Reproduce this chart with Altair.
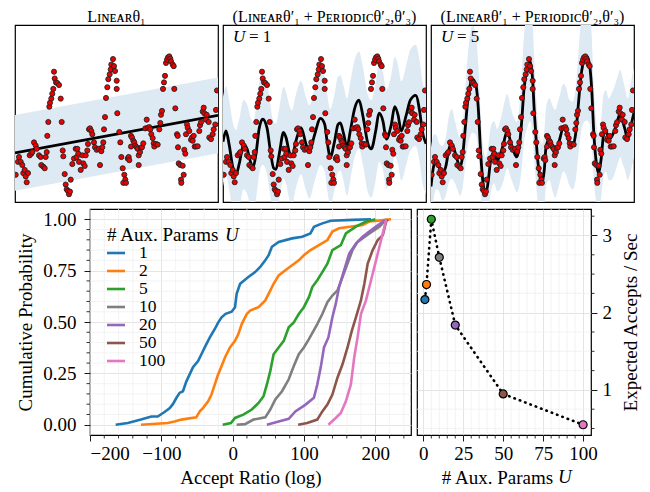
import altair as alt
import pandas as pd

FONT = "Liberation Serif"

# ---------------- top panels: observations (shared) ----------------
obs_t = [0.7, 3.0, 4.0, 5.7, 7.3, 8.3, 9.7, 10.7, 11.7, 13.0,
         14.7, 16.3, 17.3, 19.0, 20.7, 21.7, 24.0, 25.7, 26.3, 28.3,
         29.7, 30.7, 31.7, 32.3, 33.3, 34.3, 35.0, 36.3, 37.3, 38.3,
         39.0, 39.7, 41.0, 42.3, 44.0, 45.7, 46.7, 47.7, 48.3, 49.7,
         50.7, 51.7, 53.0, 54.0, 55.0, 55.7, 57.3, 59.0, 60.7, 61.7,
         62.3, 63.3, 64.0, 65.7, 67.3, 68.3, 69.7, 70.7, 72.3, 73.0,
         74.0, 75.0, 76.3, 77.3, 79.0, 80.0, 81.7, 84.0, 85.0, 86.3,
         87.3, 88.3, 89.0, 90.0, 91.0, 92.3, 93.3, 94.7, 95.7, 96.3,
         98.0, 99.0, 100.0, 101.7, 101.7, 102.3, 104.3, 105.3, 106.3, 107.7,
         108.3, 109.3, 110.3, 111.0, 112.7, 113.7, 114.3, 116.0, 116.0, 117.0,
         118.3, 119.3, 120.3, 121.7, 122.7, 123.7, 123.7, 125.0, 126.0, 127.0,
         128.3, 130.3, 131.7, 132.7, 134.3, 135.3, 136.3, 137.7, 138.7, 139.3,
         141.0, 142.7, 144.3, 145.3, 146.0, 147.0, 148.0, 149.0, 150.0, 151.0,
         152.0, 153.0, 154.3, 155.3, 156.0, 157.7, 158.7, 159.3, 160.3, 162.0,
         162.7, 163.0, 163.7, 165.3, 166.0, 166.3, 167.7, 168.7, 169.3, 170.3,
         171.0, 172.0, 172.7, 174.3, 176.0, 177.0, 177.7, 178.7, 179.7, 181.0,
         182.7, 184.3, 185.0, 186.0, 187.7, 188.7, 189.3, 191.0, 191.7, 193.7,
         194.3, 196.0, 197.7, 198.7, 200.3, 201.0, 202.0]
obs_v = [28.0, 41.3, 46.3, 41.3, 38.0, 29.7, 33.0, 26.3, 20.3, 29.7,
         48.0, 49.7, 51.3, 61.3, 58.0, 54.7, 48.0, 46.3, 38.0, 36.3,
         34.7, 46.3, 51.3, 68.0, 82.3, 98.0, 102.0, 106.3, 111.3, 116.3,
         134.0, 127.0, 123.0, 122.3, 120.3, 106.3, 82.3, 53.0, 47.0, 28.7,
         18.0, 13.0, 11.3, 8.0, 10.7, 23.0, 39.0, 44.7, 54.7, 46.3,
         54.7, 49.7, 41.3, 33.0, 48.0, 39.7, 37.0, 48.0, 53.0, 59.7,
         74.7, 75.7, 73.0, 69.7, 61.3, 56.3, 53.7, 54.7, 38.0, 52.3,
         56.3, 61.3, 74.7, 87.3, 107.0, 118.0, 126.3, 131.3, 136.3, 141.3,
         147.0, 139.7, 134.7, 124.7, 116.3, 91.3, 72.0, 61.3, 46.3, 34.7,
         19.7, 28.0, 23.0, 19.7, 44.7, 46.3, 43.0, 68.0, 57.0, 66.3,
         63.0, 61.3, 58.0, 56.3, 54.7, 48.0, 38.0, 51.3, 55.7, 56.3,
         60.3, 75.7, 84.7, 76.3, 77.0, 74.7, 69.7, 65.7, 60.3, 57.0,
         59.7, 59.0, 74.7, 81.3, 89.7, 93.7, 116.3, 123.0, 129.7, 143.0,
         146.3, 148.7, 149.7, 147.3, 144.7, 141.3, 139.7, 116.3, 96.3, 69.7,
         68.0, 56.3, 39.7, 38.0, 23.0, 19.7, 37.3, 28.0, 53.7, 49.7,
         69.7, 79.7, 76.3, 73.0, 64.0, 66.3, 63.0, 68.0, 57.0, 57.0,
         57.3, 73.0, 79.0, 82.0, 93.0, 97.0, 91.3, 84.7, 89.7, 82.3,
         66.3, 64.7, 69.7, 74.7, 79.7, 94.7, 114.7]

# Linear model fit (mean and std)
lin_t = [0, 203]
lin_mean = [50.5, 89.0]
lin_sd = [39.0, 39.0]

# Linear + Periodic, U = 1
u1_t = [0, 3, 6.3, 9.7, 13, 16.3, 20.5, 24, 28, 30.3,
        33, 36.3, 39.7, 44, 47.3, 50.7, 53, 56.3, 60.5, 63,
        66.3, 69, 73, 78, 83, 86.3, 91.3, 97.5, 101.7, 104,
        107.3, 111.7, 115, 117.3, 120.7, 124, 127.3, 131.7, 136, 140,
        145, 148.3, 152.7, 156, 160, 163.3, 168.3, 171.7, 175, 178.3,
        183.3, 187.3, 192.7, 196.7, 199.3, 203]
u1_mean = [62, 73, 58, 36.3, 28, 39.7, 59, 54.7, 39.7, 36.3,
           49.7, 76.3, 85.3, 76.3, 53, 34.7, 33.7, 49.7, 71.5, 66.3,
           51.3, 46.3, 63, 76.5, 59.7, 51.3, 68, 86, 80, 63,
           46.3, 63, 79.7, 81.3, 69.7, 56.3, 73, 96.3, 104.7, 88,
           59.7, 54.7, 73, 91.3, 83, 64.7, 79.7, 98, 89.7, 73,
           89.7, 104.7, 109.7, 93, 73, 60]
u1_sd = [46, 46, 46, 46, 46, 46, 46, 46, 46, 46,
         47, 47, 47, 47, 47, 47, 47, 47, 47, 47,
         48, 48, 48, 48, 48, 48, 48, 48, 49, 49,
         49, 49, 49, 49, 49, 50, 50, 50, 50, 50,
         50, 50, 50, 50, 50, 51, 51, 51, 51, 51,
         51, 52, 52, 52, 52, 52]

# Linear + Periodic, U = 5
u5_t = [0, 3, 5.3, 8, 11.3, 14.7, 18, 20.7, 24, 26.3,
        29, 31.3, 34, 36.3, 38.7, 41.3, 44.7, 47.3, 49.7, 52,
        54.7, 57, 59.7, 63, 66.3, 69, 72, 76.3, 79.7, 83,
        85.7, 88, 90.7, 93, 96.3, 99, 101.7, 103.3, 105, 106.7,
        109, 111, 113.3, 115, 118.3, 121.7, 124, 128.3, 132.3, 135,
        138.3, 141.7, 145, 147.3, 150, 153.3, 156, 158.3, 160.7, 162.7,
        165, 167.3, 170, 172.7, 175, 177.7, 180, 183.3, 187.3, 189.3,
        191.7, 194, 196.7, 199, 201.7, 203]
u5_mean = [16, 38, 41, 36, 29.7, 36, 54.7, 59.7, 51.3, 43,
           36.3, 44.7, 73, 99.7, 118, 126.3, 121.3, 96.3, 49.7, 19.7,
           8, 19.7, 43, 51.3, 43, 48, 58, 73, 61.3, 51.3,
           46.3, 54.7, 83, 116.3, 136.3, 145, 124.7, 93, 66.3, 43,
           26.3, 19.7, 33, 56.3, 64.7, 54.7, 49.7, 63, 76.3, 73,
           61.3, 58, 73, 99.7, 129.7, 146.3, 149.7, 143, 116.3, 73,
           43, 29.7, 43, 69.7, 73, 64.7, 66.3, 73, 86.3, 91.3,
           83, 74.7, 64.7, 73, 86.3, 92]
u5_sd = [40, 32, 28, 25, 28, 30, 34, 36, 32, 30,
         30, 32, 38, 45, 52, 55, 52, 45, 40, 38,
         38, 36, 34, 32, 32, 35, 38, 38, 36, 35,
         36, 40, 48, 55, 60, 62, 58, 52, 46, 42,
         40, 40, 40, 40, 42, 44, 45, 45, 45, 45,
         44, 45, 48, 52, 58, 64, 66, 62, 55, 48,
         42, 40, 40, 42, 42, 42, 44, 45, 45, 45,
         44, 42, 42, 44, 46, 46]

# ---------------- bottom-left: ECDF of accept ratio ----------------
U_labels = ["1", "2", "5", "10", "20", "50", "100"]
COLORS = ["#1f77b4", "#ff7f0e", "#2ca02c", "#7f7f7f", "#9467bd", "#8c564b", "#e377c2"]

e1_x = [-164, -147, -128.5, -114, -105, -95.6, -88.5, -83.8, -79, -74.4,
        -69.7, -65, -60.3, -55.6, -48.5, -43.8, -38.1, -32, -25, -20.2,
        -15.5, -9.9, -1.4, 3.3, 5.6, 10.4, 22, 31.5, 38.6, 45.7,
        50.4, 55, 64.5, 83.3, 97.5, 109, 114, 125.7, 137.5, 168, 194]
e1_p = [0, .008, .025, .04, .04, .062, .08, .1, .13, .155,
        .163, .21, .245, .28, .31, .343, .384, .425, .466, .498,
        .523, .54, .55, .572, .637, .686, .719, .743, .768, .8,
        .825, .866, .89, .907, .915, .931, .964, .98, .993, .997, 1.0]
e2_x = [-128.5, -91, -81.5, -72, -51, -46.1, -41.4, -34.4, -29.7, -25,
        -21.2, -15.5, -10.8, -3.8, 3.3, 8, 12.7, 19.8, 24.5, 36.3,
        45.7, 50.4, 57.4, 64.5, 73.9, 83.3, 92.7, 99.8, 109.2, 121,
        132.8, 139.8, 149.2, 182.2, 191.6, 215, 222]
e2_p = [0, .008, .016, .025, .036, .065, .082, .114, .147, .196,
        .237, .286, .327, .376, .408, .441, .49, .539, .556, .572,
        .605, .637, .686, .727, .752, .776, .8, .825, .85, .874,
        .899, .94, .956, .972, .989, .997, 1.0]
e5_x = [-14, -2.4, 3.3, 15, 26.8, 36.3, 43.3, 48, 52.7, 57.4,
        64.5, 71.6, 78.6, 85.7, 92.7, 99.8, 106.9, 111.6, 118.6, 125.7,
        132.8, 139.8, 151.6, 158.7, 172.8, 187, 196.3, 200]
e5_p = [0, .008, .033, .049, .074, .106, .139, .196, .261, .343,
        .376, .408, .474, .498, .539, .572, .621, .67, .703, .743,
        .784, .85, .874, .931, .964, .989, .997, 1.0]
e10_x = [5.6, 17.4, 29.2, 45.7, 52.7, 59.8, 69.2, 78.6, 85.7, 92.7,
         99.8, 106.9, 118.6, 125.7, 132.8, 139.8, 146.9, 154, 161, 168,
         175.1, 191.6, 205.7, 215.2]
e10_p = [0, .003, .025, .036, .074, .123, .163, .221, .286, .343,
         .376, .417, .49, .539, .596, .629, .654, .719, .784, .85,
         .89, .931, .964, 1.0]
e20_x = [48, 64.5, 78.6, 87.9, 102.2, 113.9, 118.6, 123.4, 128, 134.2,
         139.8, 144.5, 149.2, 156.3, 163.4, 172.8, 182.2, 191.6, 201, 215.2]
e20_p = [0, .016, .029, .065, .098, .131, .196, .278, .376, .425,
         .523, .588, .67, .752, .833, .882, .915, .94, .964, 1.0]
e50_x = [91.8, 104.5, 118.6, 125.7, 132.8, 139.8, 146.9, 154, 161, 167.1,
         172.8, 179.8, 184.6, 189.3, 196.3, 203.4, 210.5, 215.2, 217.5]
e50_p = [0, .008, .025, .065, .098, .147, .229, .294, .376, .458,
         .523, .605, .686, .784, .85, .899, .923, .989, 1.0]
e100_x = [134.2, 144.5, 151.6, 158.7, 165.7, 170.4, 175.1, 179.8, 186.9, 194,
          201, 208.1, 212.8, 215.2]
e100_p = [0, .033, .057, .114, .196, .327, .425, .539, .605, .703,
          .8, .899, .964, 1.0]

# ---------------- bottom-right: expected accepts per second ----------------
U_vals = [1, 2, 5, 10, 20, 50, 100]
rates = [2.17, 2.365, 3.21, 2.717, 1.84, 0.948, 0.549]

# ======================= build =======================
obs_df = pd.DataFrame({"t": obs_t, "v": obs_v})
XS = alt.Scale(domain=[0, 203], nice=False, zero=False)
YS = alt.Scale(domain=[0, 182], nice=False, zero=False)
TOP_W, TOP_H = 203, 177
one = pd.DataFrame({"a": [0]})


def top_panel(t, mean, sd, title, ulabel=None):
    df = pd.DataFrame({"t": t, "m": mean,
                       "lo": [a - b for a, b in zip(mean, sd)],
                       "hi": [a + b for a, b in zip(mean, sd)]})
    interp = "monotone" if len(t) > 2 else "linear"
    base = alt.Chart(df)
    band = base.mark_area(color="#dde9f3", opacity=1, clip=True, interpolate=interp).encode(
        x=alt.X("t:Q", scale=XS, axis=None),
        y=alt.Y("lo:Q", scale=YS, axis=None), y2="hi:Q")
    line = base.mark_line(color="black", strokeWidth=2.8, clip=True, interpolate=interp).encode(
        x=alt.X("t:Q", scale=XS, axis=None),
        y=alt.Y("m:Q", scale=YS, axis=None))
    pts = alt.Chart(obs_df).mark_point(shape="circle", filled=True, fill="#ee0000", stroke="#222222",
                                       strokeWidth=0.9, size=26, opacity=1, clip=True).encode(
        x=alt.X("t:Q", scale=XS, axis=None),
        y=alt.Y("v:Q", scale=YS, axis=None))
    layers = [band, line, pts]
    if ulabel:
        layers.append(alt.Chart(one).mark_text(text="U", font=FONT, fontSize=17, fontStyle="italic",
                                               align="left", baseline="alphabetic", color="black").encode(
            x=alt.value(10), y=alt.value(17)))
        layers.append(alt.Chart(one).mark_text(text=ulabel, font=FONT, fontSize=17,
                                               align="left", baseline="alphabetic", color="black").encode(
            x=alt.value(26), y=alt.value(17)))
    return alt.layer(*layers).properties(
        width=TOP_W, height=TOP_H,
        title=alt.TitleParams(title, font=FONT, fontSize=16, fontWeight="normal", offset=0, color="black"))


p1 = top_panel(lin_t, lin_mean, lin_sd, "Lɪɴᴇᴀʀθ₁")
p2 = top_panel(u1_t, u1_mean, u1_sd, "(Lɪɴᴇᴀʀθ′₁ + Pᴇʀɪᴏᴅɪᴄθ′₂,θ′₃)", "= 1")
p3 = top_panel(u5_t, u5_mean, u5_sd, "(Lɪɴᴇᴀʀθ′₁ + Pᴇʀɪᴏᴅɪᴄθ′₂,θ′₃)", "= 5")
top_row = alt.hconcat(p1, p2, p3, spacing=3)

# ---- bottom-left ECDF
rows = []
for lab, xs, ps in zip(U_labels, [e1_x, e2_x, e5_x, e10_x, e20_x, e50_x, e100_x],
                       [e1_p, e2_p, e5_p, e10_p, e20_p, e50_p, e100_p]):
    for k, (x, p) in enumerate(zip(xs, ps)):
        rows.append({"U": lab, "x": x, "p": p, "k": k})
ecdf_df = pd.DataFrame(rows)
CS = alt.Scale(domain=U_labels, range=COLORS)
BLX = alt.Scale(domain=[-200, 250], nice=False, zero=False)
BLY = alt.Scale(domain=[-0.05, 1.05], nice=False, zero=False)
BL_W, BL_H = 321, 226

minor_bx = pd.DataFrame({"x": [v for v in range(-180, 250, 20) if v % 100 != 0]})
minor_by = pd.DataFrame({"p": [round(0.05 * i, 2) for i in range(1, 21) if i % 5 != 0]})

bl_x_axis = alt.Axis(values=[-200, -100, 0, 100, 200], title="Accept Ratio (log)", format="d",
                     grid=True, gridColor="#dddddd", gridWidth=0.8, tickSize=6,
                     labelPadding=3, titlePadding=5)
bl_y_axis = alt.Axis(values=[0, 0.25, 0.5, 0.75, 1.0], title="Cumulative Probability", format=".2f",
                     grid=True, gridColor="#dddddd", gridWidth=0.8, tickSize=6,
                     labelPadding=8, titlePadding=7)

g_bx = alt.Chart(minor_bx).mark_rule(color="#f0f0f0", strokeWidth=0.8).encode(
    x=alt.X("x:Q", scale=BLX, axis=bl_x_axis))
g_by = alt.Chart(minor_by).mark_rule(color="#f0f0f0", strokeWidth=0.8).encode(
    y=alt.Y("p:Q", scale=BLY, axis=bl_y_axis))
t_bx = alt.Chart(minor_bx).mark_rule(color="black", strokeWidth=0.8).encode(
    x=alt.X("x:Q", scale=BLX), y=alt.value(BL_H), y2=alt.value(BL_H + 3.5))
t_by = alt.Chart(minor_by).mark_rule(color="black", strokeWidth=0.8).encode(
    y=alt.Y("p:Q", scale=BLY), x=alt.value(0), x2=alt.value(-3.5))

ecdf_lines = alt.Chart(ecdf_df).mark_line(strokeWidth=2.6).encode(
    x=alt.X("x:Q", scale=BLX, axis=bl_x_axis),
    y=alt.Y("p:Q", scale=BLY, axis=bl_y_axis),
    color=alt.Color("U:N", scale=CS, legend=None),
    order="k:Q")

leg_df = pd.DataFrame({"U": U_labels, "row": list(range(7))})
leg_base = alt.Chart(leg_df).transform_calculate(ly="44 + 18 * datum.row")
leg_lines = leg_base.mark_rule(strokeWidth=2.6).encode(
    x=alt.value(17), x2=alt.value(35), y=alt.Y("ly:Q", scale=None),
    color=alt.Color("U:N", scale=CS, legend=None))
leg_text = leg_base.mark_text(font=FONT, fontSize=17.5, align="left", baseline="middle", color="black").encode(
    x=alt.value(49), y=alt.Y("ly:Q", scale=None), text="U:N")
leg_title = alt.Chart(one).mark_text(text="# Aux. Params", font=FONT, fontSize=19, align="left",
                                     baseline="middle", color="black").encode(x=alt.value(17), y=alt.value(25.5))
leg_title_u = alt.Chart(one).mark_text(text="U", font=FONT, fontSize=19, fontStyle="italic", align="left",
                                       baseline="middle", color="black").encode(x=alt.value(135), y=alt.value(25.5))

bl = alt.layer(g_bx, g_by, t_bx, t_by, ecdf_lines, leg_lines, leg_text, leg_title, leg_title_u).properties(
    width=BL_W, height=BL_H)

# ---- bottom-right
rate_df = pd.DataFrame({"U": U_vals, "lab": U_labels, "r": rates})
BRX = alt.Scale(domain=[-3.95, 104.95], nice=False, zero=False)
BRY = alt.Scale(domain=[0.416, 3.343], nice=False, zero=False)
BR_W, BR_H = 174, 226
minor_rx = pd.DataFrame({"U": [v for v in range(5, 105, 5) if v % 25 != 0]})
minor_ry = pd.DataFrame({"r": [0.5, 0.75, 1.25, 1.5, 1.75, 2.25, 2.5, 2.75, 3.25]})

br_x_axis = alt.Axis(values=[0, 25, 50, 75, 100], title="# Aux. Params", grid=True,
                     gridColor="#dddddd", gridWidth=0.8, tickSize=6, labelPadding=3, titlePadding=5,
                     titleX=80, titleY=33, titleBaseline="top")
br_y_axis = alt.Axis(orient="right", values=[1, 2, 3], title="Expected Accepts / Sec", format="d",
                     grid=True, gridColor="#dddddd", gridWidth=0.8, tickSize=6, labelPadding=5,
                     titlePadding=10, titleAngle=270, titleBaseline="top")

g_rx = alt.Chart(minor_rx).mark_rule(color="#f0f0f0", strokeWidth=0.8).encode(
    x=alt.X("U:Q", scale=BRX, axis=br_x_axis))
g_ry = alt.Chart(minor_ry).mark_rule(color="#f0f0f0", strokeWidth=0.8).encode(
    y=alt.Y("r:Q", scale=BRY, axis=br_y_axis))
t_rx = alt.Chart(minor_rx).mark_rule(color="black", strokeWidth=0.8).encode(
    x=alt.X("U:Q", scale=BRX), y=alt.value(BR_H), y2=alt.value(BR_H + 3.5))
t_ry = alt.Chart(minor_ry).mark_rule(color="black", strokeWidth=0.8).encode(
    y=alt.Y("r:Q", scale=BRY), x=alt.value(BR_W), x2=alt.value(BR_W + 3.5))

r_line = alt.Chart(rate_df).mark_line(color="black", strokeWidth=2.6, strokeDash=[0.5, 5.2],
                                      strokeCap="round").encode(
    x=alt.X("U:Q", scale=BRX, axis=br_x_axis),
    y=alt.Y("r:Q", scale=BRY, axis=br_y_axis),
    order="U:Q")
r_pts = alt.Chart(rate_df).mark_point(shape="circle", filled=True, size=64, stroke="black",
                                      strokeWidth=1.2, opacity=1).encode(
    x=alt.X("U:Q", scale=BRX, axis=br_x_axis), y=alt.Y("r:Q", scale=BRY, axis=br_y_axis),
    fill=alt.Fill("lab:N", scale=CS, legend=None))
r_title_u = alt.Chart(one).mark_text(text="U", font=FONT, fontSize=19, fontStyle="italic", align="left",
                                     baseline="top", color="black").encode(
    x=alt.value(141), y=alt.value(BR_H + 33))

br = alt.layer(g_rx, g_ry, t_rx, t_ry, r_line, r_pts, r_title_u).properties(width=BR_W, height=BR_H)

# spacer so that the bottom row's y-axis sits to the right of the top row's left edge
spacer = alt.Chart(one).mark_text(text="").properties(
    width=1, height=1, view=alt.ViewBackground(strokeOpacity=0))

bottom_row = alt.hconcat(spacer, alt.hconcat(bl, br, spacing=4), spacing=0)

chart = alt.vconcat(top_row, bottom_row, spacing=0).properties(
    padding={"left": 6, "top": 0, "right": 0, "bottom": 0}
).configure_view(stroke="black", strokeWidth=1.2).configure_axis(
    labelFont=FONT, titleFont=FONT, labelFontSize=19, titleFontSize=19, titleFontWeight="normal",
    labelColor="black", titleColor="black", tickColor="black", tickWidth=0.9, domain=False
)

chart.save("out.html", embed_options={"renderer": "svg", "actions": False})
